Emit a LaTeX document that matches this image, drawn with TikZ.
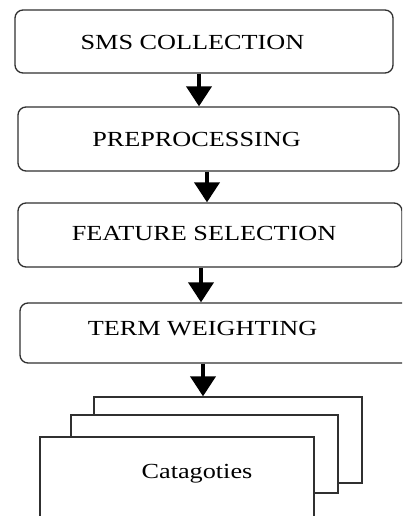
\documentclass[tikz,border=0pt]{standalone}
\usepackage{fontspec}
\setmainfont{Liberation Serif}
\usetikzlibrary{arrows.meta}
\definecolor{edge}{HTML}{303030}
\tikzset{
  stepbox/.style={draw=edge, line width=1.3pt, rounded corners=8pt, fill=white, inner sep=0pt},
  sheet/.style={draw=edge, line width=1.3pt, fill=white, inner sep=0pt},
  label text/.style={font=\fontsize{21.5}{24}\selectfont, xscale=1.22, transform shape, inner sep=0pt},
  flow/.style={line width=3.8pt, -{Triangle[width=25pt,length=20pt]}}
}
\begin{document}
\begin{tikzpicture}[x=1pt,y=-1pt]
  \useasboundingbox (0,0) rectangle (402,516);
  \clip (0,0) rectangle (402,516);
  \fill[white] (0,0) rectangle (402,516);

  % process steps
  \node[stepbox, minimum width=378pt, minimum height=63pt] (b1) at (204,41.5) {};
  \node[stepbox, minimum width=381pt, minimum height=64pt] (b2) at (208.5,139) {};
  \node[stepbox, minimum width=384pt, minimum height=64pt] (b3) at (210,235) {};
  \node[stepbox, minimum width=400pt, minimum height=60pt] (b4) at (220,333) {};

  \node[label text] (t1) at (192.5,42) {SMS COLLECTION};
  \node[label text] (t2) at (196.5,139) {PREPROCESSING};
  \node[label text] (t3) at (204,233) {FEATURE SELECTION};
  \node[label text] (t4) at (202.5,329) {TERM WEIGHTING};

  % stacked category sheets
  \node[sheet, minimum width=268pt, minimum height=86pt] (back) at (228,440) {};
  \node[sheet, minimum width=267pt, minimum height=78pt] (mid) at (204.5,454) {};
  \node[sheet, minimum width=274pt, minimum height=102pt] (front) at (177,488) {};
  \node[label text] (t5) at (197,474) {Catagoties};

  % flow arrows
  \draw[flow] ([xshift=-5pt]b1.south) -- ([xshift=-9.5pt]b2.north);
  \draw[flow] ([xshift=-1.5pt]b2.south) -- ([xshift=-3pt]b3.north);
  \draw[flow] ([xshift=-9pt]b3.south) -- ([xshift=-19pt]b4.north);
  \draw[flow] ([xshift=-17pt]b4.south) -- ([xshift=-25pt]back.north);
\end{tikzpicture}
\end{document}
